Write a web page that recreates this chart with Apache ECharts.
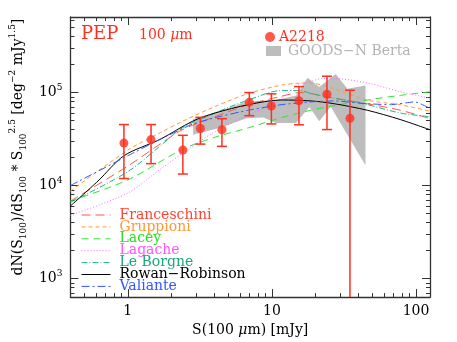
<!DOCTYPE html>
<html><head><meta charset="utf-8">
<script src="https://cdn.jsdelivr.net/npm/echarts@6/dist/echarts.min.js"></script>
<style>html,body{margin:0;padding:0;background:#fff}#c{width:457px;height:342px}</style>
</head><body><div id="c"></div>
<script>
// ---- tick values ----
const xMajor = [1, 10, 100];
const xMinor = [0.4, 0.5, 0.6, 0.7, 0.8, 0.9, 2, 3, 4, 5, 6, 7, 8, 9, 20, 30, 40, 50, 60, 70, 80, 90];
const yMajor = [1e3, 1e4, 1e5];
const yMinor = [700, 800, 900, 2e3, 3e3, 4e3, 5e3, 6e3, 7e3, 8e3, 9e3, 2e4, 3e4, 4e4, 5e4, 6e4, 7e4, 8e4, 9e4, 2e5, 3e5, 4e5, 5e5, 6e5];

// ---- model curves ----
const modelNames = ['Franceschini', 'Gruppioni', 'Lacey', 'Lagache', 'Le Borgne', 'Rowan\u2212Robinson', 'Valiante'];
const franceschiniS = [0.40, 1, 1.69, 2.39, 4.03, 6.86, 11.6, 15.9, 27.0, 45.8, 77.6, 125];
const franceschiniV = [6.8e3, 1.62e4, 2.82e4, 3.98e4, 5.5e4, 7.41e4, 9.12e4, 1.0e5, 8.7e4, 7.59e4, 6.46e4, 5.25e4];
const gruppioniS = [0.40, 1, 1.69, 2.39, 4.03, 6.86, 11.6, 15.9, 18.7, 27.0, 45.8, 77.6, 125];
const gruppioniV = [8.7e3, 2.4e4, 3.72e4, 4.9e4, 7.08e4, 9.77e4, 1.2e5, 1.26e5, 1.26e5, 1.1e5, 8.3e4, 7.4e4, 6.3e4];
const laceyS = [0.40, 1, 2.39, 4.03, 6.86, 11.6, 18.7, 27.0, 45.8, 77.6, 125];
const laceyV = [6.8e3, 1.15e4, 2.45e4, 3.31e4, 4.17e4, 5.37e4, 6.46e4, 7.24e4, 8.32e4, 9.33e4, 1.02e5];
const lagacheS = [0.40, 1, 1.69, 2.8, 4.03, 6.86, 8.74, 11.6, 15.9, 18.7, 22, 27, 45.8, 77.6, 125];
const lagacheV = [4.8e3, 8.3e3, 1.51e4, 2.63e4, 3.8e4, 5.75e4, 6.76e4, 8.7e4, 1.26e5, 1.32e5, 1.41e5, 1.41e5, 1.27e5, 1.02e5, 8.7e4];
const leBorgneS = [0.40, 1, 1.69, 2.39, 4.03, 6.86, 11.6, 15.9, 18.7, 27, 45.8, 77.6, 125];
const leBorgneV = [6.6e3, 1.41e4, 2.69e4, 4.17e4, 6.03e4, 8.32e4, 1.05e5, 1.05e5, 9.77e4, 8.7e4, 7.41e4, 6.03e4, 5.5e4];
const rowanS = [0.40, 0.622, 0.94, 1.69, 2.8, 4.03, 6.86, 11.6, 18.7, 27, 45.8, 77.6, 125];
const rowanV = [6.03e3, 1.12e4, 2.09e4, 3.16e4, 4.9e4, 6.03e4, 7.41e4, 8.32e4, 8.13e4, 7.59e4, 6.46e4, 5.13e4, 3.98e4];
const valianteS = [0.40, 1, 1.69, 2.8, 4.03, 6.86, 11.6, 18.7, 27, 45.8, 66.3, 98.4, 125];
const valianteV = [1.0e4, 2.09e4, 3.16e4, 4.57e4, 5.37e4, 6.46e4, 7.41e4, 7.94e4, 8.13e4, 7.59e4, 7.41e4, 7.94e4, 6.76e4];

// ---- A2218 points ----
const ptS = [0.94, 1.45, 2.41, 3.19, 4.5, 6.97, 9.92, 15.4, 24.1, 34.8];
const ptV = [2.86e4, 3.12e4, 2.41e4, 4.11e4, 3.98e4, 7.85e4, 7.18e4, 8.17e4, 9.6e4, 5.28e4];
const ptLo = [1.19e4, 1.72e4, 1.33e4, 2.79e4, 2.64e4, 5.64e4, 4.6e4, 4.5e4, 4.0e4, 100];
const ptHi = [4.53e4, 4.53e4, 3.47e4, 5.42e4, 5.24e4, 1.0e5, 9.69e4, 1.16e5, 1.5e5, 1.06e5];

// ---- GOODS-N Berta band ----
const bandUpperS = [2.84, 4.36, 6.68, 10.7, 14.7, 17.7, 21.3, 27.7, 33.4, 44.6];
const bandUpperV = [5.2e4, 6.3e4, 8.0e4, 8.3e4, 9.3e4, 1.44e5, 1.15e5, 1.58e5, 1.10e5, 1.19e5];
const bandLowerS = [44.6, 25.6, 21.3, 18.2, 14.7, 10.7, 8.74, 6.68, 4.36, 2.84];
const bandLowerV = [1.65e4, 7.06e4, 4.92e4, 7.0e4, 4.72e4, 4.72e4, 5.4e4, 5.3e4, 4.18e4, 3.52e4];

const RED = '#ff2f1f';
const FONT = 'DejaVu Serif';
const lineColors = ['#ff5a48', '#ff9a3a', '#2ee82e', '#ff66ff', '#1fb585', '#000000', '#3355ff'];
const textColors = ['#ff4433', '#ff9933', '#22e022', '#ff55ff', '#1aa878', '#000000', '#3355ff'];
const dashes = [[9, 5], [4, 3], [7, 5], [1, 2], [6, 2, 1, 2], 'solid', [8, 3, 2, 3]];
const modelS = [franceschiniS, gruppioniS, laceyS, lagacheS, leBorgneS, rowanS, valianteS];
const modelV = [franceschiniV, gruppioniV, laceyV, lagacheV, leBorgneV, rowanV, valianteV];

const AX = '#333';
function xAx(pos, vals, len, labels, line) {
  return {
    type: 'log', logBase: 10, min: 0.4, max: 125, position: pos, gridIndex: 0,
    axisLine: { show: line, onZero: false, lineStyle: { color: AX, width: 1.3 } },
    axisTick: { show: true, inside: true, length: len, customValues: vals, lineStyle: { color: AX, width: 1 } },
    axisLabel: labels ? { show: true, customValues: vals, margin: 7, color: '#000', fontFamily: FONT, fontSize: 14,
      formatter: v => String(Math.round(v)) } : { show: false },
    splitLine: { show: false }, minorTick: { show: false }
  };
}
function yAx(pos, vals, len, labels, line) {
  return {
    type: 'log', logBase: 10, min: 631, max: 6.5e5, position: pos, gridIndex: 0,
    axisLine: { show: line, onZero: false, lineStyle: { color: AX, width: 1.3 } },
    axisTick: { show: true, inside: true, length: len, customValues: vals, lineStyle: { color: AX, width: 1 } },
    axisLabel: labels ? { show: true, customValues: vals, margin: 8, color: '#000',
      formatter: v => '{b|10}{p|' + Math.round(Math.log10(v)) + '}',
      rich: { b: { fontFamily: FONT, fontSize: 14, color: '#000', lineHeight: 18 },
              p: { fontFamily: FONT, fontSize: 9, color: '#000', verticalAlign: 'top', lineHeight: 10 } } } : { show: false },
    splitLine: { show: false }, minorTick: { show: false }
  };
}

const xAxes = [xAx('bottom', xMajor, 8, true, true), xAx('bottom', xMinor, 4, false, false),
               xAx('top', xMajor, 8, false, true), xAx('top', xMinor, 4, false, false)];
xAxes[0].name = 'S(100 {i|\u03bc}m) [mJy]';
xAxes[0].nameLocation = 'middle';
xAxes[0].nameGap = 22;
xAxes[0].nameTextStyle = { fontFamily: FONT, fontSize: 14, color: '#000',
  rich: { i: { fontFamily: FONT, fontSize: 14, fontStyle: 'italic', color: '#000' } } };

const yAxes = [yAx('left', yMajor, 8, true, true), yAx('left', yMinor, 4, false, false),
               yAx('right', yMajor, 8, false, true), yAx('right', yMinor, 4, false, false)];
yAxes[0].name = 'dN(S{sb|100})/dS{sb|100} * S{sb|100}{sp|2.5} [deg{sp|\u22122} mJy{sp|1.5}]';
yAxes[0].nameLocation = 'middle';
yAxes[0].nameGap = 38;
yAxes[0].nameTextStyle = { fontFamily: FONT, fontSize: 14, color: '#000', lineHeight: 20, padding: [0, 0, 0, 20],
  rich: { sb: { fontFamily: FONT, fontSize: 9, color: '#000', verticalAlign: 'bottom', lineHeight: 10 },
          sp: { fontFamily: FONT, fontSize: 9, color: '#000', verticalAlign: 'top', lineHeight: 10 } } };

const series = [];
// band
series.push({
  name: 'GOODS\u2212N Berta', type: 'custom', xAxisIndex: 0, yAxisIndex: 0, z: 1, clip: true,
  itemStyle: { color: '#bdbdbd' },
  data: [[bandUpperS[0], bandUpperV[0]]],
  renderItem: function (params, api) {
    const pts = [];
    for (let i = 0; i < bandUpperS.length; i++) pts.push(api.coord([bandUpperS[i], bandUpperV[i]]));
    for (let i = 0; i < bandLowerS.length; i++) pts.push(api.coord([bandLowerS[i], bandLowerV[i]]));
    return { type: 'polygon', shape: { points: pts }, style: { fill: '#bdbdbd', stroke: null } };
  }
});
// models
for (let k = 0; k < modelNames.length; k++) {
  series.push({
    name: modelNames[k], type: 'line', xAxisIndex: 0, yAxisIndex: 0, z: 2,
    symbol: 'none', smooth: k === 6 ? 0.15 : 0.3,
    lineStyle: { color: lineColors[k], width: 1, type: dashes[k] },
    itemStyle: { color: lineColors[k] },
    data: modelS[k].map((s, i) => [s, modelV[k][i]])
  });
}
// error bars
series.push({
  name: 'errbars', type: 'custom', xAxisIndex: 0, yAxisIndex: 0, z: 3, clip: true,
  data: ptS.map((s, i) => [s, ptLo[i], ptHi[i]]),
  encode: { x: 0, y: [1, 2] },
  renderItem: function (params, api) {
    const x = api.value(0);
    const lo = api.coord([x, api.value(1)]);
    const hi = api.coord([x, api.value(2)]);
    const hw = 5;
    const st = { stroke: RED, lineWidth: 1.5 };
    return { type: 'group', children: [
      { type: 'line', shape: { x1: lo[0], y1: lo[1], x2: hi[0], y2: hi[1] }, style: st },
      { type: 'line', shape: { x1: hi[0] - hw, y1: hi[1], x2: hi[0] + hw, y2: hi[1] }, style: st },
      { type: 'line', shape: { x1: lo[0] - hw, y1: lo[1], x2: lo[0] + hw, y2: lo[1] }, style: st }
    ] };
  }
});
// points
series.push({
  name: 'A2218', type: 'scatter', xAxisIndex: 0, yAxisIndex: 0, z: 4,
  symbol: 'circle', symbolSize: 9, itemStyle: { color: RED },
  data: ptS.map((s, i) => [s, ptV[i]])
});

const NOSYM = { color: 'rgba(0,0,0,0)', borderColor: 'rgba(0,0,0,0)', borderWidth: 0, opacity: 0 };
const option = {
  animation: false,
  backgroundColor: '#fff',
  grid: { left: 67, right: 27, top: 17, bottom: 39 },
  xAxis: xAxes,
  yAxis: yAxes,
  legend: [
    { orient: 'vertical', left: 265, top: 30, padding: 0, itemWidth: 10, itemHeight: 10, itemGap: 0,
      selectedMode: false,
      textStyle: { fontFamily: FONT, fontSize: 14, lineHeight: 13, padding: [0, 0, 0, -1] },
      data: [{ name: 'A2218', icon: 'circle', textStyle: { color: RED } }] },
    { orient: 'vertical', left: 266, top: 44, padding: 0, itemWidth: 15, itemHeight: 10, itemGap: 0,
      selectedMode: false,
      textStyle: { fontFamily: FONT, fontSize: 14, lineHeight: 13, padding: [0, 0, 0, 2] },
      data: [{ name: 'GOODS\u2212N Berta', icon: 'rect', itemStyle: { color: '#bdbdbd' }, textStyle: { color: '#b3b3b3' } }] },
    { orient: 'vertical', left: 81, top: 208, padding: 0, itemWidth: 29, itemHeight: 8, itemGap: -2.1,
      selectedMode: false,
      lineStyle: { width: 1 },
      textStyle: { fontFamily: FONT, fontSize: 14, lineHeight: 11.7, padding: [0, 0, 0, 4] },
      data: modelNames.map((n, i) => ({ name: n, itemStyle: NOSYM, textStyle: { color: textColors[i] } })) }
  ],
  graphic: [
    { type: 'text', left: 81, top: 25, style: { text: 'PEP', fill: RED, font: '18px "DejaVu Serif"' } },
    { type: 'text', left: 139, top: 28, style: { text: '100 {i|\u03bc}m', fill: RED, font: '14px "DejaVu Serif"',
      rich: { i: { fontStyle: 'italic', fill: RED, fontFamily: FONT, fontSize: 14 } } } }
  ],
  series: series
};
const chart = echarts.init(document.getElementById('c'), null, { renderer: 'canvas' });
chart.setOption(option);
</script></body></html>
